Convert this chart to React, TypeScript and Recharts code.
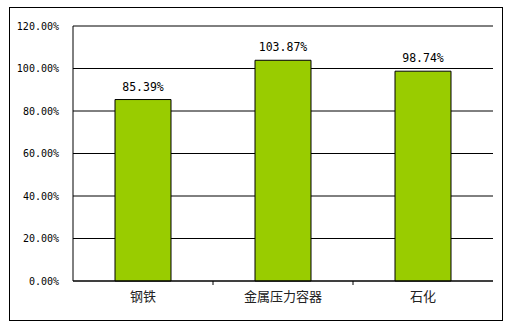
import React from 'react';
import { BarChart, Bar, XAxis, YAxis, CartesianGrid, LabelList, ReferenceLine } from 'recharts';

// 行业类别与比例数据
const categories = ['钢铁', '金属压力容器', '石化'];
const values = [85.39, 103.87, 98.74];
const yTicks = [0, 20, 40, 60, 80, 100, 120];

const data = categories.map((name, i) => ({ name, value: values[i] }));

const monoFont = '"DejaVu Sans Mono", "Liberation Mono", monospace';
const TICK_MARGIN = 8;

// 类别标签 + 类别之间的小刻度
const CategoryTick = (props: any) => {
  const { x, y, payload, index, visibleTicksCount } = props;
  const half = payload?.offset ?? 0;
  const axisY = y - TICK_MARGIN;
  const showMark = index < visibleTicksCount - 1;
  return (
    <g>
      {showMark && <line x1={x + half} x2={x + half} y1={axisY} y2={axisY + 4} stroke="#000" />}
      <text
        x={x}
        y={y + 3}
        dy="0.71em"
        textAnchor="middle"
        fill="#222"
        fontSize={13}
        fontFamily='"Noto Sans CJK SC", sans-serif'
      >
        {payload.value}
      </text>
    </g>
  );
};

const App: React.FC = () => {
  return (
    <div style={{ position: 'absolute', left: 0, top: 0, width: 505, height: 331, background: '#fff' }}>
      {/* 外框 */}
      <div
        style={{
          position: 'absolute',
          left: 9,
          top: 7,
          width: 492,
          height: 312,
          border: '1px solid #000',
        }}
      />
      <div style={{ position: 'absolute', left: 0, top: 0 }}>
        <BarChart width={505} height={331} data={data} margin={{ top: 26, right: 12, bottom: 20, left: 13 }}>
          <CartesianGrid vertical={false} stroke="#000" strokeOpacity={1} />
          <XAxis
            dataKey="name"
            stroke="#000"
            tickLine={false}
            tickSize={0}
            height={30}
            tick={<CategoryTick />}
            tickMargin={TICK_MARGIN}
          />
          <YAxis
            domain={[0, 120]}
            ticks={yTicks}
            width={60}
            stroke="#000"
            tickLine={false}
            tickFormatter={(v: number) => v.toFixed(2) + '%'}
            tick={{ fill: '#000', fontSize: 10, fontFamily: monoFont }}
            tickMargin={8}
          />
          <YAxis yAxisId="right" orientation="right" width={0} stroke="#808080" tick={false} tickLine={false} />
          <ReferenceLine y={120} stroke="#808080" />
          {/* 柱形颜色为黄绿色 */}
          <Bar dataKey="value" fill="#99CC00" stroke="#000" strokeWidth={1} barSize={56} isAnimationActive={false}>
            <LabelList
              dataKey="value"
              position="top"
              offset={9}
              formatter={(v: number) => v.toFixed(2) + '%'}
              style={{ fill: '#000', fontSize: 11.5, fontFamily: monoFont }}
            />
          </Bar>
        </BarChart>
      </div>
    </div>
  );
};

export default App;
